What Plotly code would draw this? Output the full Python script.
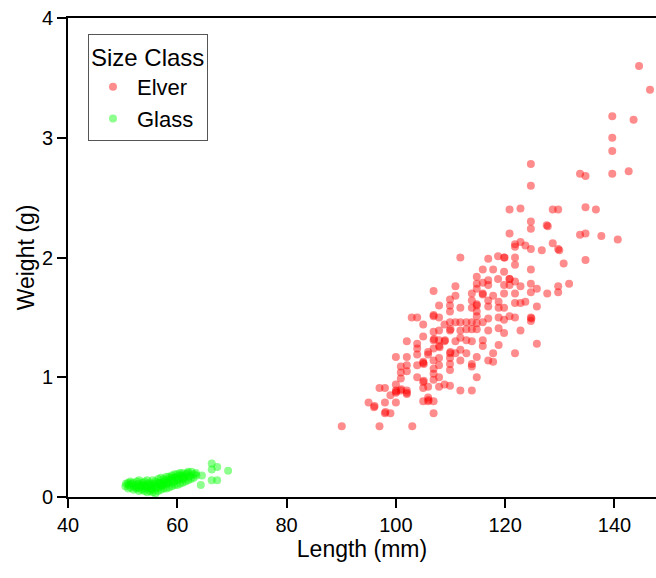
import plotly.graph_objects as go

# Elver (red) data: length (mm), weight (g)
elver_length = [
    144.5, 146.5, 139.6, 143.5, 139.6, 139.6, 124.7, 133.7, 134.7, 139.6, 142.6, 124.7,
    120.8, 122.8, 128.7, 129.7, 134.7, 136.6, 124.7, 124.7, 127.6, 127.8, 120.8, 133.7,
    134.7, 137.6, 140.6, 121.8, 122.8, 123.7, 121.8, 128.7, 129.7, 129.9, 126.7, 124.7,
    134.7, 130.7, 116.9, 118.7, 119.8, 119.9, 121.8, 121.8, 115.9, 117.8, 119.8, 124.7,
    116.9, 118.7, 120.8, 121.8, 122.8, 124.7, 131.7, 115.9,
    111.8, 114.8, 114.8, 116.9, 114.8, 120.8, 120.8, 119.8, 110.9, 124.7, 125.8, 129.7,
    129.7, 127.7, 106.9, 110.9, 113.9, 115.9, 115.9, 117.8, 119.8, 121.8,
    109.9, 109.9, 109.9, 107.9, 111.8, 113.9, 113.9, 114.8, 114.8, 114.8, 116.9, 116.9,
    118.8, 118.8, 119.8, 121.8, 123.7, 122.8, 125.8,
    102.9, 103.9, 106.9, 106.9, 107.9, 109.9, 110.9, 111.8, 112.9, 113.9, 114.8, 114.8,
    115.9, 116.9, 118.8, 119.8, 120.8, 121.8, 124.7, 124.8, 124.7,
    105.0, 106.9, 107.9, 108.9, 109.9, 110.0, 111.8, 112.9, 113.9, 114.8, 116.9, 118.8,
    119.8, 122.8,
    102.0, 103.9, 105.0, 106.9, 107.0, 107.9, 108.9, 109.0, 110.9, 111.8, 112.9, 113.9,
    115.9, 115.9, 118.8, 121.8, 125.8,
    103.9, 105.9, 106.9, 107.9, 108.0, 109.9, 110.0, 111.8, 112.9, 114.8, 117.8, 116.9,
    117.8,
    100.0, 102.0, 103.9, 105.0, 105.9, 106.9, 107.9, 109.9, 110.9, 111.8,
    100.9, 100.9, 102.0, 102.0, 103.9, 105.0, 105.1, 106.9, 107.9, 109.9, 109.9, 113.9,
    113.9,
    100.9, 103.9, 105.0, 105.1, 106.9, 106.9, 107.9, 114.8,
    100.0, 100.0, 102.0, 102.0, 105.0, 105.9, 107.9, 108.9, 109.9, 111.8, 113.9,
    97.0, 98.0, 99.0, 100.0, 100.1, 100.9, 101.0, 102.0,
    95.0, 96.0, 96.1, 98.0, 100.0, 105.0, 105.9, 106.0, 105.9, 106.9,
    98.0, 98.1, 99.0, 106.9,
    90.1, 97.0, 103.0,
]
elver_weight = [
    3.60, 3.40, 3.18, 3.15, 3.00, 2.89, 2.78, 2.70, 2.68, 2.70, 2.72, 2.60,
    2.40, 2.41, 2.40, 2.40, 2.42, 2.40, 2.30, 2.24, 2.27, 2.26, 2.20, 2.19,
    2.20, 2.18, 2.15, 2.11, 2.13, 2.10, 2.09, 2.12, 2.07, 2.06, 2.06, 2.07,
    1.98, 1.95, 1.99, 2.01, 2.00, 2.00, 2.00, 1.94, 1.90, 1.90, 1.88, 1.90,
    1.81, 1.82, 1.82, 1.80, 1.76, 1.78, 1.78, 1.79,
    2.00, 1.84, 1.78, 1.77, 1.74, 1.82, 1.77, 1.77, 1.76, 1.71, 1.74, 1.76,
    1.71, 1.70, 1.72, 1.68, 1.70, 1.70, 1.69, 1.68, 1.70, 1.70,
    1.65, 1.60, 1.55, 1.60, 1.58, 1.64, 1.58, 1.60, 1.61, 1.55, 1.64, 1.59,
    1.63, 1.58, 1.58, 1.62, 1.63, 1.62, 1.59,
    1.50, 1.50, 1.51, 1.52, 1.50, 1.46, 1.46, 1.46, 1.46, 1.46, 1.51, 1.45,
    1.46, 1.49, 1.50, 1.48, 1.51, 1.50, 1.50, 1.49, 1.47,
    1.44, 1.38, 1.39, 1.44, 1.39, 1.40, 1.39, 1.40, 1.40, 1.40, 1.39, 1.41,
    1.37, 1.39,
    1.30, 1.28, 1.34, 1.31, 1.32, 1.31, 1.30, 1.31, 1.30, 1.33, 1.31, 1.30,
    1.31, 1.26, 1.27, 1.20, 1.28,
    1.24, 1.21, 1.24, 1.26, 1.25, 1.20, 1.21, 1.23, 1.20, 1.17, 1.20, 1.14,
    1.13,
    1.17, 1.17, 1.19, 1.13, 1.19, 1.14, 1.16, 1.16, 1.20, 1.14,
    1.09, 1.04, 1.10, 1.05, 1.10, 1.12, 1.11, 1.07, 1.10, 1.11, 1.06, 1.11,
    1.09,
    0.99, 1.00, 0.96, 0.97, 1.03, 0.98, 1.00, 1.00,
    0.94, 0.89, 0.89, 0.86, 0.91, 0.92, 0.92, 0.94, 0.93, 0.89, 0.89,
    0.91, 0.91, 0.85, 0.87, 0.88, 0.89, 0.90, 0.87,
    0.79, 0.75, 0.76, 0.79, 0.79, 0.80, 0.80, 0.81, 0.83, 0.80,
    0.70, 0.71, 0.70, 0.70,
    0.59, 0.59, 0.59,
]

# Glass (green) data: length (mm), weight (g)
glass_length = [
    50.5, 50.6, 51.0, 51.1, 51.0, 51.5, 51.6, 51.4, 52.0, 52.1, 51.9, 52.5, 52.4, 52.6, 52.5,
    53.0, 53.1, 52.9, 53.0, 53.5, 53.4, 53.6, 53.5, 54.0, 54.1, 53.9, 54.0, 54.1,
    54.5, 54.4, 54.6, 54.5, 55.0, 55.1, 54.9, 55.0, 55.1, 55.5, 55.4, 55.6, 55.5, 55.4,
    56.0, 56.1, 55.9, 56.0, 56.1, 56.5, 56.4, 56.6, 56.5, 56.6, 57.0, 57.1, 56.9, 57.0, 57.1,
    57.5, 57.4, 57.6, 57.5, 57.6, 58.0, 58.1, 57.9, 58.0, 58.1, 58.5, 58.4, 58.6, 58.5,
    59.0, 59.1, 58.9, 59.0, 59.1, 59.5, 59.4, 59.6, 59.5, 60.0, 60.1, 59.9, 60.0, 60.1,
    60.5, 60.4, 60.6, 60.5, 61.0, 61.1, 60.9, 61.0, 61.1, 61.5, 61.4, 61.6,
    62.0, 62.1, 61.9, 62.0, 62.5, 62.4, 62.6, 63.0, 63.1, 63.5, 63.4,
    64.3, 64.5, 66.3, 67.3, 66.3, 69.3, 66.3, 67.3,
]
glass_weight = [
    0.09, 0.11, 0.07, 0.10, 0.12, 0.08, 0.11, 0.13, 0.06, 0.09, 0.12, 0.07, 0.10, 0.13, 0.08,
    0.05, 0.08, 0.11, 0.14, 0.06, 0.09, 0.12, 0.10, 0.05, 0.07, 0.10, 0.13, 0.09,
    0.04, 0.08, 0.11, 0.14, 0.05, 0.07, 0.09, 0.12, 0.10, 0.04, 0.08, 0.11, 0.14, 0.06,
    0.03, 0.07, 0.10, 0.13, 0.09, 0.05, 0.08, 0.11, 0.15, 0.12, 0.06, 0.09, 0.12, 0.16, 0.10,
    0.07, 0.10, 0.13, 0.15, 0.11, 0.07, 0.11, 0.14, 0.17, 0.12, 0.08, 0.12, 0.15, 0.17,
    0.09, 0.12, 0.14, 0.18, 0.16, 0.10, 0.13, 0.16, 0.19, 0.10, 0.14, 0.17, 0.19, 0.15,
    0.11, 0.15, 0.18, 0.20, 0.12, 0.15, 0.18, 0.20, 0.16, 0.13, 0.17, 0.19,
    0.14, 0.17, 0.20, 0.21, 0.15, 0.18, 0.21, 0.16, 0.19, 0.18, 0.20,
    0.10, 0.18, 0.28, 0.25, 0.23, 0.22, 0.14, 0.14,
]

x_ticks = [40, 60, 80, 100, 120, 140]
y_ticks = [0, 1, 2, 3, 4]

fig = go.Figure()
fig.add_trace(go.Scatter(
    x=elver_length, y=elver_weight, mode="markers", name="Elver",
    marker=dict(color="#ff0000", size=8, opacity=0.45, line=dict(width=0)),
))
fig.add_trace(go.Scatter(
    x=glass_length, y=glass_weight, mode="markers", name="Glass",
    marker=dict(color="#00ff00", size=8, opacity=0.45, line=dict(width=0)),
))

axis_common = dict(
    showline=True, linecolor="black", linewidth=2,
    ticks="outside", ticklen=9, tickwidth=2, tickcolor="black",
    showgrid=False, zeroline=False, automargin=False,
    ticklabeloverflow="allow",
    tickfont=dict(size=20, color="black"),
)

fig.update_layout(
    width=656, height=578,
    margin=dict(l=68, r=0, t=18, b=81),
    paper_bgcolor="white", plot_bgcolor="white",
    font=dict(family="Liberation Sans, Arial, sans-serif", color="black"),
    xaxis=dict(range=[40, 147.6], tickvals=x_ticks, mirror=True,
               title=dict(text="Length (mm)", font=dict(size=23), standoff=5),
               **axis_common),
    yaxis=dict(range=[0, 4], tickvals=y_ticks,
               title=dict(text="Weight (g)", font=dict(size=23), standoff=1),
               **axis_common),
    legend=dict(
        x=0.034, y=0.967, xanchor="left", yanchor="top",
        bgcolor="white", bordercolor="#555555", borderwidth=1,
        font=dict(size=22), title=dict(text="Size Class", font=dict(size=24)),
        tracegroupgap=0, itemwidth=38,
    ),
    showlegend=True,
)

fig.write_html(
    "out.html",
    config={"displayModeBar": False},
    post_script="document.body.style.margin='0';document.body.style.overflow='hidden';",
)
